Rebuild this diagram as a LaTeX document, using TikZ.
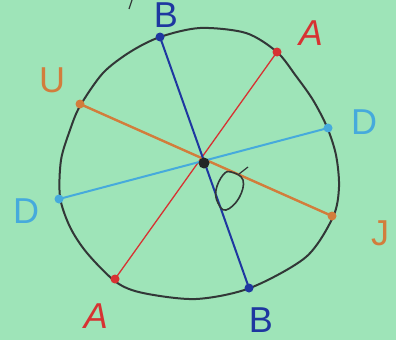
\documentclass[tikz,border=0pt]{standalone}
\usepackage{fontspec}
\setmainfont{Liberation Sans}
\definecolor{bg}{RGB}{158,228,184}
\definecolor{rim}{RGB}{50,55,55}
\definecolor{cB}{RGB}{30,55,160}
\definecolor{cA}{RGB}{215,50,50}
\definecolor{cU}{RGB}{210,125,60}
\definecolor{cD}{RGB}{70,170,220}
\begin{document}
\begin{tikzpicture}[x=1pt,y=-1pt,
  chord/.style={line width=2pt, line cap=round},
  enddot/.style={circle, fill, inner sep=0pt, minimum size=9pt},
  lbl/.style={font=\fontsize{36}{36}\selectfont, inner sep=0pt}]
\fill[bg] (0,0) rectangle (396,340);
\useasboundingbox (0,0) rectangle (396,340);
% rim
\draw[rim, line width=2pt] plot[smooth cycle, tension=0.5] coordinates
  {(200,28) (246,33) (277,52) (296,76) (313,100) (327,127) (336,155) (339,187)
   (333,217) (306,257) (250,288) (196,299) (143,293) (116,282) (87,253) (70,227)
   (60,197) (61,160) (70,130) (80,106) (103,73) (130,52) (160,37)};
% centre
\coordinate (O) at (204,163);
% end points
\node[enddot, cB] (B1) at (160,37) {};
\node[enddot, cB] (B2) at (249,288) {};
\node[enddot, cA] (A1) at (277,52) {};
\node[enddot, cA] (A2) at (115,279) {};
\node[enddot, cU] (U1) at (80,104) {};
\node[enddot, cU] (U2) at (332,216) {};
\node[enddot, cD] (D1) at (328,128) {};
\node[enddot, cD] (D2) at (59,199) {};
% chords
\draw[chord, cA, line width=1.3pt] (A1.center) -- (A2.center);
\draw[chord, cU, line width=2.4pt] (U1.center) -- (U2.center);
\draw[chord, cD] (D1.center) -- (D2.center);
\draw[chord, cB] (B1.center) -- (B2.center);
\node[circle, fill=rim!70!black, inner sep=0pt, minimum size=11pt] (C) at (O) {};
% loop mark
\draw[rim, line width=1.6pt] plot[smooth cycle, tension=0.7] coordinates
  {(231,172) (243,180) (239,198) (226,210) (218,203) (216,190) (223,175)};
\coordinate (t1) at (239,174);
\coordinate (t2) at (248,167);
\draw[rim, line width=1.2pt] (t1) -- (t2);
% labels
\node[lbl, cB] (lB1) at (166,15) {B};
\node[lbl, cB] (lB2) at (261,320) {B};
\node[lbl, cA] (lA1) at (311,33) {\itshape A};
\node[lbl, cA] (lA2) at (96,316) {\itshape A};
\node[lbl, cU] (lU) at (52,80) {U};
\node[lbl, cU] (lJ) at (380,233) {J};
\node[lbl, cD] (lD1) at (364,122) {D};
\node[lbl, cD] (lD2) at (26,211) {D};
\coordinate (m1) at (132,0);
\coordinate (m2) at (129,9);
\draw[rim, line width=1.2pt] (m1) -- (m2);
\end{tikzpicture}
\end{document}
